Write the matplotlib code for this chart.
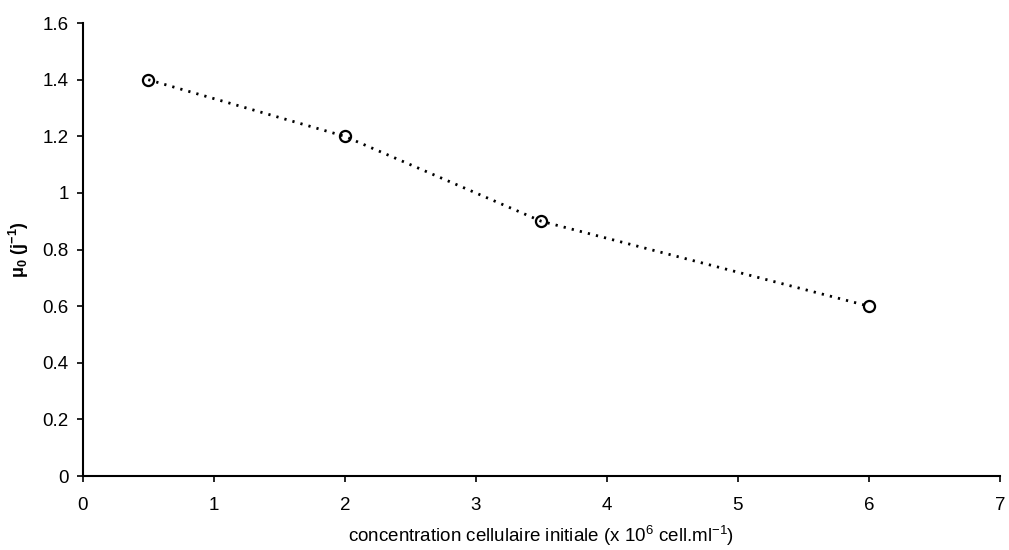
import matplotlib
matplotlib.use("Agg")
import matplotlib.pyplot as plt

# Data
concentration = [0.5, 2.0, 3.5, 6.0]
mu0 = [1.4, 1.2, 0.9, 0.6]
x_ticks = [0, 1, 2, 3, 4, 5, 6, 7]
y_ticks = [0, 0.2, 0.4, 0.6, 0.8, 1.0, 1.2, 1.4, 1.6]
y_tick_labels = ["0", "0.2", "0.4", "0.6", "0.8", "1", "1.2", "1.4", "1.6"]

plt.rcParams['font.family'] = ['Liberation Sans', 'DejaVu Sans']
plt.rcParams['mathtext.fontset'] = 'custom'
plt.rcParams['mathtext.rm'] = 'Liberation Sans'
plt.rcParams['mathtext.it'] = 'Liberation Sans:italic'
plt.rcParams['mathtext.bf'] = 'Liberation Sans:bold'

fig = plt.figure(figsize=(10.09, 5.5), dpi=100)
ax = fig.add_axes([0.082, 0.1345, 0.909, 0.8235])

ax.plot(concentration, mu0, color='black', linestyle=(0, (0.8, 2.2)), linewidth=2.0,
        marker='o', markersize=8, markerfacecolor='none', markeredgecolor='black',
        markeredgewidth=1.6)

ax.set_xlim(0, 7)
ax.set_ylim(0, 1.6)
ax.set_xticks(x_ticks)
ax.set_xticklabels([str(t) for t in x_ticks])
ax.set_yticks(y_ticks)
ax.set_yticklabels(y_tick_labels)

for s in ['top', 'right']:
    ax.spines[s].set_visible(False)
for s in ['left', 'bottom']:
    ax.spines[s].set_linewidth(1.5)
    ax.spines[s].set_color('black')

ax.tick_params(axis='both', direction='out', length=4, width=1.2, labelsize=13.5, colors='black')
ax.tick_params(axis='x', pad=11)
ax.tick_params(axis='y', pad=6)

ax.set_xlabel(r'concentration cellulaire initiale (x 10$^{6}$ cell.ml$^{-1}$)', fontsize=13.5, labelpad=7)
ax.set_ylabel(r'$\mathbf{\mu_0}$ $\mathbf{(j^{-1})}$', fontsize=13, fontweight='bold', labelpad=8)

fig.savefig('out.png', dpi=100)
